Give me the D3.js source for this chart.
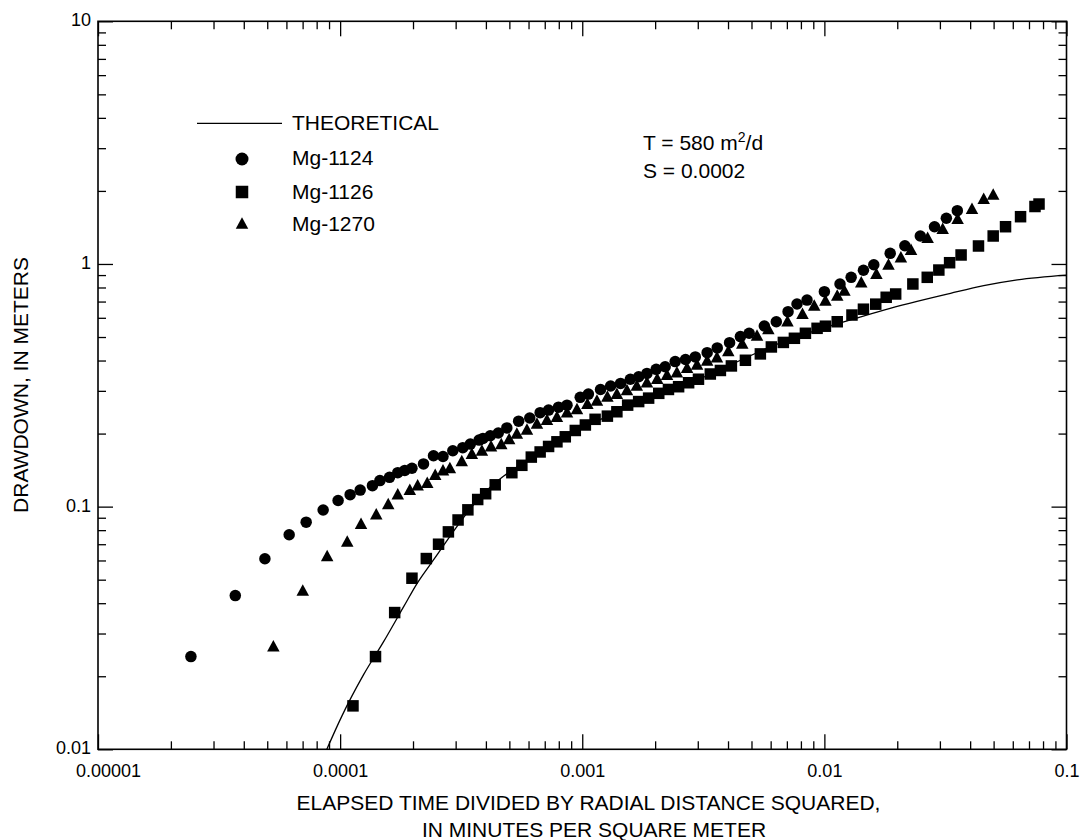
<!DOCTYPE html>
<html>
<head>
<meta charset="utf-8">
<script src="https://cdn.jsdelivr.net/npm/d3@7"></script>
<style>
  body { margin: 0; background: #fff; }
  svg text { font-family: "Liberation Sans", Arial, sans-serif; fill: #000; }
</style>
</head>
<body>
<svg id="chart" width="1080" height="840"></svg>
<script>
// values: [time / r^2 (min/m^2), drawdown (m)]
const mg1124 = [
  [2.42e-5,0.0241],[3.69e-5,0.0430],[4.89e-5,0.0610],[6.16e-5,0.0766],[7.24e-5,0.0863],[8.51e-5,0.0969],
  [9.81e-5,0.106],[1.10e-4,0.112],[1.21e-4,0.117],[1.36e-4,0.122],[1.46e-4,0.128],[1.60e-4,0.132],
  [1.73e-4,0.138],[1.85e-4,0.141],[1.98e-4,0.144],[2.21e-4,0.150],[2.43e-4,0.162],[2.66e-4,0.161],
  [2.92e-4,0.170],[3.21e-4,0.175],[3.45e-4,0.181],[3.75e-4,0.188],[3.89e-4,0.191],[4.17e-4,0.196],
  [4.50e-4,0.201],[4.88e-4,0.211],[5.46e-4,0.225],[6.07e-4,0.232],[6.70e-4,0.244],[7.26e-4,0.250],
  [7.98e-4,0.257],[8.65e-4,0.262],[9.81e-4,0.282],[1.06e-3,0.291],[1.19e-3,0.304],[1.31e-3,0.314],
  [1.44e-3,0.322],[1.58e-3,0.335],[1.71e-3,0.343],[1.85e-3,0.354],[2.02e-3,0.368],[2.20e-3,0.377],
  [2.42e-3,0.396],[2.67e-3,0.404],[2.93e-3,0.414],[3.28e-3,0.431],[3.61e-3,0.451],[4.06e-3,0.474],
  [4.50e-3,0.502],[4.89e-3,0.518],[5.65e-3,0.555],[6.33e-3,0.578],[7.08e-3,0.636],[7.71e-3,0.684],
  [8.48e-3,0.710],[0.0100,0.769],[0.0116,0.827],[0.0129,0.881],[0.0145,0.942],[0.0160,0.993],
  [0.0187,1.106],[0.0215,1.189],[0.0249,1.304],[0.0285,1.424],[0.0319,1.543],[0.0354,1.658]
]

const mg1126 = [
  [1.13e-4,0.0151],[1.40e-4,0.0241],[1.68e-4,0.0366],[1.98e-4,0.0507],[2.27e-4,0.0611],[2.55e-4,0.0700],
  [2.80e-4,0.0787],[3.07e-4,0.0881],[3.37e-4,0.0970],[3.70e-4,0.107],[3.99e-4,0.113],[4.37e-4,0.123],
  [5.12e-4,0.138],[5.63e-4,0.148],[6.16e-4,0.160],[6.70e-4,0.168],[7.26e-4,0.177],[7.86e-4,0.185],
  [8.51e-4,0.194],[9.36e-4,0.206],[1.03e-3,0.217],[1.13e-3,0.229],[1.27e-3,0.236],[1.39e-3,0.246],
  [1.54e-3,0.262],[1.71e-3,0.271],[1.88e-3,0.280],[2.07e-3,0.293],[2.27e-3,0.304],[2.50e-3,0.312],
  [2.75e-3,0.324],[3.02e-3,0.335],[3.38e-3,0.352],[3.72e-3,0.364],[4.13e-3,0.380],[4.72e-3,0.401],
  [5.44e-3,0.426],[6.04e-3,0.455],[6.77e-3,0.475],[7.52e-3,0.494],[8.35e-3,0.518],[9.33e-3,0.543],
  [0.0101,0.554],[0.0113,0.578],[0.0130,0.616],[0.0145,0.651],[0.0163,0.683],[0.0180,0.729],
  [0.0197,0.752],[0.0232,0.827],[0.0266,0.881],[0.0297,0.944],[0.0329,1.012],[0.0367,1.089],
  [0.0433,1.186],[0.0498,1.304],[0.0560,1.424],[0.0646,1.566],[0.0741,1.725],[0.0770,1.766]
]

const mg1270 = [
  [5.30e-5,0.0267],[7.01e-5,0.0453],[8.84e-5,0.0629],[1.07e-4,0.0722],[1.22e-4,0.0854],[1.41e-4,0.0935],
  [1.58e-4,0.103],[1.73e-4,0.113],[1.94e-4,0.118],[2.09e-4,0.123],[2.29e-4,0.126],[2.47e-4,0.136],
  [2.66e-4,0.142],[2.84e-4,0.145],[3.18e-4,0.155],[3.50e-4,0.166],[3.85e-4,0.171],[4.20e-4,0.178],
  [4.63e-4,0.182],[4.99e-4,0.191],[5.37e-4,0.201],[5.91e-4,0.209],[6.50e-4,0.221],[7.15e-4,0.229],
  [7.86e-4,0.236],[8.65e-4,0.246],[9.51e-4,0.254],[1.05e-3,0.267],[1.15e-3,0.275],[1.27e-3,0.286],
  [1.39e-3,0.293],[1.53e-3,0.304],[1.68e-3,0.317],[1.85e-3,0.327],[2.04e-3,0.338],[2.24e-3,0.351],
  [2.46e-3,0.360],[2.71e-3,0.375],[2.98e-3,0.387],[3.28e-3,0.402],[3.60e-3,0.415],[4.01e-3,0.440],
  [4.58e-3,0.472],[5.27e-3,0.510],[5.87e-3,0.542],[7.04e-3,0.584],[8.12e-3,0.626],[9.08e-3,0.678],
  [0.0101,0.710],[0.0113,0.745],[0.0121,0.781],[0.0142,0.845],[0.0164,0.915],[0.0184,1.00],
  [0.0207,1.071],[0.0228,1.149],[0.0267,1.288],[0.0308,1.403],[0.0355,1.543],[0.0407,1.696],
  [0.0455,1.865],[0.0498,1.942]
]

const theoretical = [
  [8.81e-5,0.0100],[1.02e-4,0.0138],[1.25e-4,0.0203],[1.51e-4,0.0277],[1.83e-4,0.0387],[2.08e-4,0.0483],
  [2.43e-4,0.0603],[3.71e-4,0.107],[6.70e-4,0.168],[1.39e-3,0.246],[3.03e-3,0.335],[6.79e-3,0.479],
  [9.33e-3,0.534],[0.0128,0.588],[0.0176,0.646],[0.0332,0.757],[0.0455,0.814],[0.0626,0.860],[0.1,0.900]
]

const xMajor = [1e-5, 1e-4, 1e-3, 1e-2, 1e-1]
const xTickLabels = ["0.00001", "0.0001", "0.001", "0.01", "0.1"]
const yMajor = [0.01, 0.1, 1, 10]
const yTickLabels = ["0.01", "0.1", "1", "10"]

const legendNames = ["THEORETICAL", "Mg-1124", "Mg-1126", "Mg-1270"]
const xTitle = ["ELAPSED TIME DIVIDED BY RADIAL DISTANCE SQUARED,", "IN MINUTES PER SQUARE METER"]
const yTitle = "DRAWDOWN, IN METERS"

const L = 98, R = 1066.5, T = 21.3, B = 749.3
const svg = d3.select("#chart")

const x = d3.scaleLog().domain([1e-5, 0.1]).range([L, R])
const y = d3.scaleLog().domain([0.01, 10]).range([B, T])

const isMajor = v => Math.abs(Math.log10(v) - Math.round(Math.log10(v))) < 1e-9
const xMinor = x.ticks().filter(v => !isMajor(v))
const yMinor = y.ticks().filter(v => !isMajor(v))

function styleAxis(g){
  g.select(".domain").remove()
  g.selectAll(".tick line").attr("stroke", "#000").attr("stroke-width", 1.3)
  g.attr("font-family", null).attr("font-size", 18)
}

// bottom + top
const xb = svg.append("g").attr("transform", `translate(0,${B})`)
  .call(d3.axisBottom(x).tickValues(xMajor).tickSize(-15).tickPadding(15)
    .tickFormat((d, i) => xTickLabels[i]))
  .call(styleAxis)
// first label sits a little to the right of the corner
xb.selectAll(".tick text").attr("dx", (d, i) => i === 0 ? 10 : 0)
svg.append("g").attr("transform", `translate(0,${B})`)
  .call(d3.axisBottom(x).tickValues(xMinor).tickSize(-8).tickFormat(""))
  .call(styleAxis)
svg.append("g").attr("transform", `translate(0,${T})`)
  .call(d3.axisTop(x).tickValues(xMajor).tickSize(-15).tickFormat(""))
  .call(styleAxis)
svg.append("g").attr("transform", `translate(0,${T})`)
  .call(d3.axisTop(x).tickValues(xMinor).tickSize(-8).tickFormat(""))
  .call(styleAxis)

// left + right
const yl = svg.append("g").attr("transform", `translate(${L},0)`)
  .call(d3.axisLeft(y).tickValues(yMajor).tickSize(-15).tickPadding(7)
    .tickFormat((d, i) => yTickLabels[i]))
  .call(styleAxis)
yl.selectAll(".tick text").attr("dy", "0.25em")
svg.append("g").attr("transform", `translate(${L},0)`)
  .call(d3.axisLeft(y).tickValues(yMinor).tickSize(-8).tickFormat(""))
  .call(styleAxis)
svg.append("g").attr("transform", `translate(${R},0)`)
  .call(d3.axisRight(y).tickValues(yMajor).tickSize(-15).tickFormat(""))
  .call(styleAxis)
svg.append("g").attr("transform", `translate(${R},0)`)
  .call(d3.axisRight(y).tickValues(yMinor).tickSize(-8).tickFormat(""))
  .call(styleAxis)

svg.append("rect")
  .attr("x", L).attr("y", T).attr("width", R - L).attr("height", B - T)
  .attr("fill", "none").attr("stroke", "#000").attr("stroke-width", 1.6)

// theoretical curve
const line = d3.line().x(d => x(d[0])).y(d => y(d[1])).curve(d3.curveMonotoneX)
svg.append("path").attr("d", line(theoretical))
  .attr("fill", "none").attr("stroke", "#000").attr("stroke-width", 1.3)

// marker shapes
function circ(g, cx, cy, s){
  g.append("circle").attr("cx", cx).attr("cy", cy).attr("r", s / 2).attr("fill", "#000")
}
function sq(g, cx, cy, s){
  g.append("rect").attr("x", cx - s / 2).attr("y", cy - s / 2).attr("width", s).attr("height", s).attr("fill", "#000")
}
function tri(g, cx, cy, s){
  const h = s * 0.92
  g.append("path").attr("d", `M${cx},${cy - h / 2} L${cx + s / 2},${cy + h / 2} L${cx - s / 2},${cy + h / 2} Z`).attr("fill", "#000")
}

const pts = svg.append("g")
mg1124.forEach(d => circ(pts, x(d[0]), y(d[1]), 11.5))
mg1270.forEach(d => tri(pts, x(d[0]), y(d[1]), 12.5))
mg1126.forEach(d => sq(pts, x(d[0]), y(d[1]), 11.5))

// legend
const lg = svg.append("g")
lg.append("line").attr("x1", 197).attr("x2", 282).attr("y1", 123.3).attr("y2", 123.3)
  .attr("stroke", "#000").attr("stroke-width", 1.3)
circ(lg, 242, 159, 13)
sq(lg, 242, 192, 12.5)
tri(lg, 242, 223, 12.5)
const legY = [130, 165, 199, 231]
legendNames.forEach((n, i) => {
  lg.append("text").attr("x", 292).attr("y", legY[i]).attr("font-size", 21).text(n)
})

// parameters
const tt = svg.append("text").attr("x", 643).attr("y", 150).attr("font-size", 21)
tt.append("tspan").text("T = 580 m")
tt.append("tspan").attr("font-size", 14).attr("dy", -8).text("2")
tt.append("tspan").attr("dy", 8).text("/d")
svg.append("text").attr("x", 643).attr("y", 178).attr("font-size", 21).text("S = 0.0002")

// axis titles
svg.append("text").attr("x", 588.5).attr("y", 810).attr("text-anchor", "middle")
  .attr("font-size", 21).text(xTitle[0])
svg.append("text").attr("x", 594).attr("y", 836.5).attr("text-anchor", "middle")
  .attr("font-size", 21).text(xTitle[1])
svg.append("text").attr("transform", "translate(28,385) rotate(-90)").attr("text-anchor", "middle")
  .attr("font-size", 21).text(yTitle)
</script>
</body>
</html>
